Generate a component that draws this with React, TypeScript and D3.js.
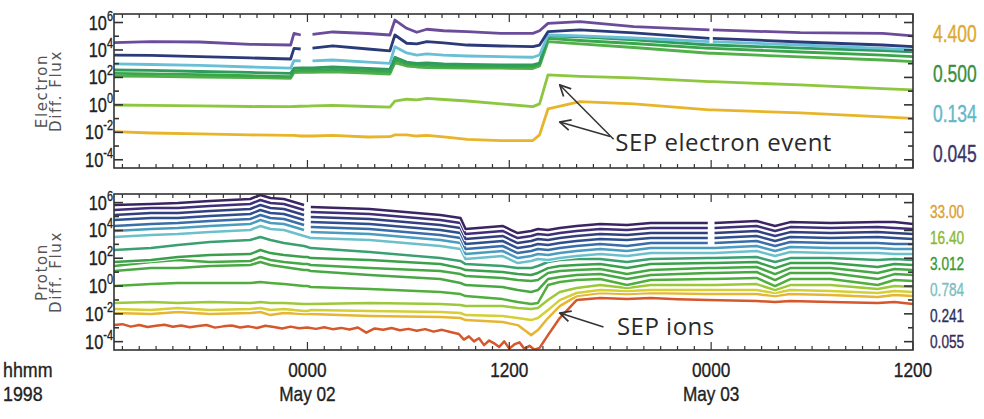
import React from "react";
import * as d3 from "d3";

const width = 984;
const height = 419;

// time axis: hours relative to 1998 May 02 0000 UT
const T0 = Date.UTC(1998, 4, 2, 0, 0);
const START = Date.UTC(1998, 4, 1, 12, 30);
const END = Date.UTC(1998, 4, 3, 12, 0);

// log10 of differential flux; null marks a data gap
const ELECTRON_HOURS = [-11.5, -9.3, -6.4, -3.4, -1.0, -0.8, -0.4, 0, 0.3, 1.5, 3.6, 4.9, 5.2, 5.9, 6.5, 7.1, 8.1, 9.5, 11.5, 13.4, 13.8, 14.3, 16.2, 19.4, 23.9, 24.0, 24.1, 29.3, 34.2, 36];
const ELECTRON_1 = [4.53, 4.6, 4.58, 4.41, 4.36, 5.21, 5.09, null, 5.14, 5.31, 5.2, 5.09, 6.18, 5.58, 5.29, 5.51, 5.4, 5.33, 5.21, 5.21, 5.4, 5.94, 6.06, 5.7, 5.46, null, 5.46, 5.26, 5.21, 5.02];
const ELECTRON_2 = [3.63, 3.6, 3.51, 3.42, 3.34, 4.12, 4.07, null, 4.14, 4.29, 4.07, 3.93, 5.09, 4.49, 4.44, 4.6, 4.51, 4.36, 4.29, 4.24, 4.36, 5.33, 5.46, 5.24, 4.85, null, 4.85, 4.58, 4.36, 4.24];
const ELECTRON_3 = [2.98, 2.94, 2.87, 2.76, 2.67, 3.22, 3.2, null, 3.2, 3.27, 3.12, 3.03, 4.24, 3.78, 3.63, 3.71, 3.63, 3.56, 3.51, 3.47, 3.63, 5.09, 5.02, 4.87, 4.6, null, 4.6, 4.36, 4.11, 4.0];
const ELECTRON_4 = [2.54, 2.51, 2.43, 2.36, 2.3, 2.67, 2.69, 2.69, 2.69, 2.76, 2.65, 2.59, 3.47, 3.12, 3.03, 3.05, 2.98, 2.94, 2.91, 2.91, 3.05, 5.02, 4.95, 4.73, 4.36, 4.36, 4.36, 4.14, 3.96, 3.87];
const ELECTRON_5 = [2.3, 2.26, 2.21, 2.12, 2.05, 2.49, 2.51, 2.51, 2.52, 2.58, 2.47, 2.42, 3.27, 2.98, 2.91, 2.87, 2.83, 2.8, 2.78, 2.78, 2.98, 4.85, 4.69, 4.47, 4.12, 4.12, 4.12, 3.85, 3.63, 3.51];
const ELECTRON_6 = [2.1, 2.08, 2.03, 1.99, 1.94, 2.35, 2.36, 2.36, 2.36, 2.4, 2.32, 2.25, 3.07, 2.83, 2.76, 2.72, 2.69, 2.67, 2.67, 2.65, 2.83, 4.6, 4.44, 4.18, 3.76, 3.76, 3.76, 3.49, 3.27, 3.15];
const ELECTRON_7 = [-0.01, -0.03, -0.08, -0.12, -0.13, -0.12, -0.1, -0.09, -0.08, -0.04, -0.12, -0.17, 0.28, 0.41, 0.36, 0.48, 0.39, 0.28, 0.07, -0.13, 0.07, 2.18, 2.07, 1.96, 1.69, 1.69, 1.69, 1.45, 1.19, 1.09];
const ELECTRON_8 = [-1.95, -2.05, -2.12, -2.19, -2.23, -2.23, -2.27, -2.27, -2.27, -2.23, -2.34, -2.32, -2.19, -2.19, -2.27, -2.23, -2.34, -2.51, -2.6, -2.6, -2.19, -0.3, 0.23, 0.07, -0.37, -0.37, -0.37, -0.59, -0.88, -0.98];

const PROTON_HOURS = [-11.5, -9.3, -7.7, -5.8, -3.4, -2.8, -2.2, -1.4, -0.2, 0.0, 0.2, 3.7, 7.9, 9.1, 9.4, 11.6, 12.5, 13.3, 13.7, 14.3, 15.0, 16.0, 17.4, 19.0, 20.4, 23.8, 24.0, 24.2, 26.7, 27.8, 28.7, 31.1, 33.9, 34.9, 36.0];
const PROTON_1 = [5.83, 5.9, 5.97, 6.12, 6.26, 6.55, 6.33, 6.26, 5.83, null, 5.68, 5.54, 5.11, 4.89, 4.1, 4.32, 3.81, 3.96, 4.1, 4.03, 4.17, 4.32, 4.46, 4.39, 4.53, 4.53, null, 4.53, 4.68, 4.32, 4.6, 4.53, 4.6, 4.6, 4.46];
const PROTON_2 = [5.47, 5.61, 5.61, 5.76, 5.9, 6.19, 5.97, 5.9, 5.47, null, 5.32, 5.18, 4.75, 4.53, 3.74, 3.96, 3.45, 3.6, 3.74, 3.67, 3.81, 3.96, 4.1, 4.03, 4.17, 4.17, null, 4.17, 4.32, 3.96, 4.24, 4.17, 4.24, 4.17, 4.1];
const PROTON_3 = [5.11, 5.25, 5.25, 5.4, 5.54, 5.83, 5.61, 5.54, 5.11, null, 4.96, 4.82, 4.39, 4.17, 3.38, 3.6, 3.09, 3.24, 3.38, 3.31, 3.45, 3.6, 3.74, 3.67, 3.81, 3.81, null, 3.81, 3.96, 3.6, 3.88, 3.81, 3.88, 3.81, 3.74];
const PROTON_4 = [4.75, 4.89, 4.89, 5.04, 5.18, 5.47, 5.25, 5.18, 4.75, null, 4.6, 4.46, 4.03, 3.81, 3.02, 3.24, 2.73, 2.88, 3.02, 2.95, 3.09, 3.24, 3.38, 3.31, 3.45, 3.45, null, 3.45, 3.6, 3.24, 3.53, 3.45, 3.53, 3.45, 3.38];
const PROTON_5 = [4.32, 4.46, 4.53, 4.68, 4.82, 5.11, 4.89, 4.82, 4.39, null, 4.24, 4.1, 3.67, 3.45, 2.66, 2.88, 2.37, 2.52, 2.66, 2.59, 2.73, 2.88, 3.02, 2.88, 3.09, 3.09, null, 3.09, 3.24, 2.88, 3.17, 3.09, 3.09, 3.02, 3.02];
const PROTON_6 = [3.96, 4.1, 4.17, 4.32, 4.46, 4.75, 4.53, 4.46, 4.03, null, 3.88, 3.74, 3.31, 3.09, 2.3, 2.52, 2.01, 2.16, 2.3, 2.23, 2.37, 2.52, 2.66, 2.52, 2.73, 2.73, 2.73, 2.73, 2.88, 2.52, 2.81, 2.73, 2.73, 2.66, 2.66];
const PROTON_7 = [3.53, 3.67, 3.74, 3.88, 4.03, 4.32, 4.1, 4.03, 3.6, 3.53, 3.45, 3.31, 2.88, 2.66, 1.94, 2.16, 1.65, 1.8, 1.94, 1.87, 2.01, 2.16, 2.3, 2.16, 2.37, 2.37, 2.37, 2.37, 2.52, 2.16, 2.45, 2.37, 2.37, 2.3, 2.3];
const PROTON_8 = [2.59, 2.73, 2.95, 3.17, 3.31, 3.53, 3.31, 3.09, 2.88, 2.81, 2.73, 2.45, 2.01, 1.8, 1.58, 1.44, 1.29, 1.29, 1.44, 1.73, 1.87, 1.94, 1.94, 1.73, 1.94, 2.01, 2.01, 2.01, 2.09, 1.73, 2.01, 2.01, 1.87, 1.94, 1.87];
const PROTON_9 = [1.73, 1.87, 2.09, 2.23, 2.3, 2.59, 2.37, 2.23, 2.09, 2.09, 2.01, 1.87, 1.58, 1.29, 1.15, 1.01, 0.86, 0.79, 0.94, 1.29, 1.44, 1.51, 1.58, 1.29, 1.58, 1.65, 1.65, 1.65, 1.73, 1.29, 1.65, 1.65, 1.37, 1.58, 1.51];
const PROTON_10 = [1.44, 1.73, 1.87, 1.73, 1.8, 2.09, 1.87, 1.73, 1.58, 1.58, 1.51, 1.29, 1.08, 0.86, 0.72, 0.58, 0.43, 0.36, 0.43, 0.94, 1.08, 1.15, 1.22, 0.86, 1.15, 1.29, 1.29, 1.29, 1.37, 0.86, 1.29, 1.29, 0.94, 1.22, 1.15];
const PROTON_11 = [1.08, 1.29, 1.29, 1.44, 1.51, 1.73, 1.51, 1.37, 1.15, 1.15, 1.08, 0.79, 0.5, 0.22, 0.07, -0.07, -0.29, -0.43, -0.29, 0.5, 0.65, 0.79, 0.86, 0.5, 0.79, 0.94, 0.94, 0.94, 1.01, 0.43, 0.94, 0.94, 0.5, 0.86, 0.79];
const PROTON_12 = [0.0, 0.14, 0.22, 0.22, 0.22, 0.29, 0.22, 0.14, 0.0, 0.0, -0.07, -0.22, -0.43, -0.58, -0.72, -0.94, -1.15, -1.29, -1.22, 0.07, 0.29, 0.43, 0.5, 0.07, 0.43, 0.5, 0.5, 0.5, 0.58, 0.0, 0.5, 0.5, 0.07, 0.43, 0.36];
const PROTON_13 = [-1.22, -1.15, -1.22, -1.15, -1.22, -1.15, -1.22, -1.22, -1.29, -1.29, -1.29, -1.22, -1.29, -1.37, -1.44, -1.44, -1.58, -1.65, -1.58, -1.01, -0.43, -0.14, 0.07, -0.14, 0.07, 0.07, 0.07, 0.07, 0.14, -0.29, 0.07, 0.07, -0.22, 0.0, -0.07];
const PROTON_14 = [-1.65, -1.73, -1.58, -1.73, -1.65, -1.58, -1.73, -1.65, -1.8, -1.8, -1.73, -1.8, -1.87, -1.94, -2.09, -2.16, -2.3, -2.45, -2.3, -1.73, -1.01, -0.5, -0.29, -0.36, -0.29, -0.29, -0.29, -0.29, -0.29, -0.5, -0.29, -0.36, -0.5, -0.36, -0.43];
const PROTON_15 = [-1.94, -2.01, -1.87, -2.01, -1.94, -1.87, -2.09, -1.94, -2.01, -2.01, -2.01, -2.16, -2.23, -2.3, -2.45, -2.59, -2.81, -3.53, -3.17, -2.3, -1.44, -0.72, -0.5, -0.58, -0.5, -0.58, -0.58, -0.58, -0.58, -0.72, -0.58, -0.65, -0.79, -0.65, -0.72];
// lowest-energy proton channel is sampled more densely (it is very noisy)
const PROTON_16_HOURS = [-11.5, -11.0, -10.5, -10.0, -9.5, -9.0, -8.5, -8.0, -7.5, -7.0, -6.5, -6.0, -5.5, -5.0, -4.5, -4.0, -3.5, -3.0, -2.5, -2.0, -1.5, -1.0, -0.5, 0, 0.5, 1.0, 1.5, 2.0, 2.5, 3.0, 3.5, 4.0, 4.5, 5.0, 5.5, 6.0, 6.5, 7.0, 7.5, 8.0, 8.5, 9.0, 9.3, 9.6, 9.9, 10.2, 10.5, 10.8, 11.1, 11.4, 11.7, 12.0, 12.3, 12.6, 12.9, 13.2, 13.5, 13.8, 14.3, 15.0, 16.0, 17.4, 19.0, 20.4, 22.0, 23.8, 26.7, 27.8, 28.7, 31.1, 33.9, 34.9, 36.0];
const PROTON_16 = [-2.81, -2.74, -2.92, -2.8, -2.95, -2.86, -2.78, -2.93, -2.84, -2.97, -2.88, -2.8, -2.99, -2.9, -2.84, -2.98, -2.9, -3.02, -2.86, -2.95, -3.05, -2.92, -3.04, -2.98, -3.08, -2.96, -3.1, -3.01, -3.12, -2.98, -3.35, -3.05, -3.15, -3.02, -3.18, -3.08, -3.22, -3.1, -3.28, -3.15, -3.3, -3.45, -3.85, -3.62, -3.98, -3.75, -4.25, -3.92, -4.12, -4.38, -3.98, -4.5, -4.2, -4.05, -4.52, -4.3, -4.58, -4.45, -3.53, -2.3, -1.01, -0.86, -0.94, -0.86, -0.95, -1.01, -1.08, -1.15, -1.08, -1.15, -1.22, -1.15, -1.29];

const ELECTRON_SERIES = [ELECTRON_8, ELECTRON_7, ELECTRON_6, ELECTRON_5, ELECTRON_4, ELECTRON_3, ELECTRON_2, ELECTRON_1];
const PROTON_SERIES = [PROTON_16, PROTON_15, PROTON_14, PROTON_13, PROTON_12, PROTON_11, PROTON_10, PROTON_9, PROTON_8, PROTON_7, PROTON_6, PROTON_5, PROTON_4, PROTON_3, PROTON_2, PROTON_1];

const ELECTRON_LABELS = ["4.400", "0.500", "0.134", "0.045"];
const PROTON_LABELS = ["33.00", "16.40", "3.012", "0.784", "0.241", "0.055"];
const DECADES = [6, 4, 2, 0, -2, -4];

// styles
const ELECTRON_COLORS = ["#e8b42a", "#8dc63f", "#52b04a", "#3aa64a", "#2f9c5e", "#68bfd6", "#2b3a78", "#6b4c9a"];
const PROTON_COLORS = ["#d5572b", "#e6b531", "#d3cf34", "#9cc83a", "#4fae3c", "#4aa844", "#45a845", "#3aa04a", "#3aa070", "#6cc0cc", "#4a9cc0", "#3a6ea8", "#2f4f8f", "#33407f", "#3f2f78", "#3b2462"];
const ELECTRON_LABEL_COLORS = ["#e0a830", "#3a9040", "#5fb8cc", "#3b3566"];
const PROTON_LABEL_COLORS = ["#d9a030", "#8ab830", "#3a9a30", "#7ac0c0", "#283060", "#3a2a5a"];

const LEFT = 114;
const RIGHT = 913;
const PANELS = [
  { key: "e", top: 14, bottom: 168, hours: ELECTRON_SERIES.map(() => ELECTRON_HOURS), series: ELECTRON_SERIES, colors: ELECTRON_COLORS, title: "Electron", halo: false },
  { key: "p", top: 194, bottom: 350, hours: PROTON_SERIES.map((s) => (s === PROTON_16 ? PROTON_16_HOURS : PROTON_HOURS)), series: PROTON_SERIES, colors: PROTON_COLORS, title: "Proton", halo: true },
];

const x = d3.scaleUtc().domain([START, END]).range([LEFT, RIGHT]);
const toDate = (h: number) => T0 + h * 3600e3;

// IDL-like condensed lettering: Liberation Sans squeezed horizontally
function Narrow({ x, y, size, anchor = "start", fill = "#222", sx = 0.78, children }: any) {
  return (
    <g transform={`translate(${x},${y}) scale(${sx},1)`}>
      <text textAnchor={anchor} fontSize={size} fill={fill} stroke={fill} strokeWidth={0.35} fontFamily="'Liberation Sans', Arial, sans-serif">
        {children}
      </text>
    </g>
  );
}

function Panel({ p }: { p: (typeof PANELS)[0] }) {
  const y = d3.scaleLog().domain([10 ** -4.6, 10 ** 6.62]).range([p.bottom, p.top]);
  const line = d3
    .line<[number, number | null]>()
    .defined((d) => d[1] != null)
    .x((d) => x(toDate(d[0])))
    .y((d) => y(10 ** (d[1] as number)));
  const hourTicks = x.ticks(d3.utcHour.every(1) as any);
  const decades = d3.range(-4, 7);
  return (
    <g>
      <clipPath id={"clip-" + p.key}>
        <rect x={LEFT} y={p.top} width={RIGHT - LEFT} height={p.bottom - p.top} />
      </clipPath>
      <g clipPath={`url(#clip-${p.key})`}>
        {p.series.map((vals, i) => {
          const hrs = p.hours[i];
          const d = line(hrs.map((h, j) => [h, vals[j]] as [number, number | null])) || "";
          return (
            <g key={i}>
              {p.halo && <path d={d} fill="none" stroke="#fff" strokeWidth={4.4} />}
              <path d={d} fill="none" stroke={p.colors[i]} strokeWidth={p.halo ? 2.5 : 2.8} strokeLinejoin="round" />
            </g>
          );
        })}
      </g>
      <rect x={LEFT} y={p.top} width={RIGHT - LEFT} height={p.bottom - p.top} fill="none" stroke="#333" strokeWidth={1.6} />
      {hourTicks.map((t, i) => {
        const major = t.getUTCHours() % 12 === 0;
        const len = major ? 8 : 4;
        const xx = x(t);
        return (
          <g key={i} stroke="#333" strokeWidth={1.2}>
            <line x1={xx} x2={xx} y1={p.top} y2={p.top + len} />
            <line x1={xx} x2={xx} y1={p.bottom} y2={p.bottom - len} />
          </g>
        );
      })}
      {decades.map((e) => {
        const yy = y(10 ** e);
        const len = e % 2 === 0 ? 9 : 5;
        return (
          <g key={e} stroke="#333" strokeWidth={1.6}>
            <line x1={LEFT} x2={LEFT + len} y1={yy} y2={yy} />
            <line x1={RIGHT} x2={RIGHT - len} y1={yy} y2={yy} />
          </g>
        );
      })}
      {DECADES.map((e) => (
        <Narrow key={e} x={LEFT - 1} y={y(10 ** e) + 7} size={21} anchor="end">
          10
          <tspan dy={-9} fontSize={14}>{e}</tspan>
        </Narrow>
      ))}
      <g transform={`translate(47,${(p.top + p.bottom) / 2}) rotate(-90)`} fontFamily="'DejaVu Sans', sans-serif" fontSize={15} fill="#555" textAnchor="middle" letterSpacing={1.6}>
        <text y={0}>{p.title}</text>
        <text y={14}>Diff. Flux</text>
      </g>
    </g>
  );
}

export default function App() {
  const top = PANELS[0];
  const bot = PANELS[1];
  const yE = d3.scaleLog().domain([10 ** -4.6, 10 ** 6.62]).range([top.bottom, top.top]);
  const yP = d3.scaleLog().domain([10 ** -4.6, 10 ** 6.62]).range([bot.bottom, bot.top]);
  const labelTicks = x.ticks(d3.utcHour.every(12) as any);
  const fmtTime = d3.utcFormat("%H%M");
  const fmtDay = d3.utcFormat("%b %d");
  const pt = (yy: d3.ScaleLogarithmic<number, number>, h: number, e: number) => [x(toDate(h)), yy(10 ** e)];
  const arrows = [
    [pt(yE, 18.2, -2.5), pt(yE, 15.0, 1.45)],
    [pt(yE, 18.0, -2.3), pt(yE, 15.0, -1.25)],
    [pt(yP, 17.6, -2.95), pt(yP, 15.0, -1.94)],
  ];
  const [ex, ey] = pt(yE, 18.3, -3.36);
  const [px, py] = pt(yP, 18.4, -3.53);
  return (
    <svg width={width} height={height} style={{ position: "absolute", left: 0, top: 0, background: "#fff" }}>
      <defs>
        <marker id="arr" viewBox="0 0 12 12" refX={11} refY={6} markerWidth={13} markerHeight={13} markerUnits="userSpaceOnUse" orient="auto">
          <path d="M1,1 L11,6 L1,11" fill="none" stroke="#333" strokeWidth={1.6} />
        </marker>
      </defs>
      {PANELS.map((p) => (
        <Panel key={p.key} p={p} />
      ))}
      {ELECTRON_LABELS.map((s, i) => (
        <Narrow key={s} x={933} y={top.top + 28 + i * 40} size={23} fill={ELECTRON_LABEL_COLORS[i]} sx={0.76}>
          {s}
        </Narrow>
      ))}
      {PROTON_LABELS.map((s, i) => (
        <Narrow key={s} x={930} y={bot.top + 24 + i * 26} size={18} fill={PROTON_LABEL_COLORS[i]} sx={0.76}>
          {s}
        </Narrow>
      ))}
      {labelTicks.map((t, i) => (
        <g key={i}>
          <Narrow x={x(t)} y={377} size={21} anchor="middle" sx={0.82}>
            {fmtTime(t)}
          </Narrow>
          {t.getUTCHours() === 0 && (
            <Narrow x={x(t)} y={401} size={21} anchor="middle" sx={0.82}>
              {fmtDay(t)}
            </Narrow>
          )}
        </g>
      ))}
      <Narrow x={3} y={377} size={21} sx={0.85}>hhmm</Narrow>
      <Narrow x={3} y={401} size={21} sx={0.85}>1998</Narrow>
      {arrows.map(([a, b], i) => (
        <line key={i} x1={a[0]} y1={a[1]} x2={b[0]} y2={b[1]} stroke="#333" strokeWidth={1.5} markerEnd="url(#arr)" />
      ))}
      <g fontFamily="'Open Sans', sans-serif" fontSize={24} fill="#2a2a2a" letterSpacing={0.5}>
        <text x={ex} y={ey}>SEP electron event</text>
        <text x={px} y={py}>SEP ions</text>
      </g>
    </svg>
  );
}
